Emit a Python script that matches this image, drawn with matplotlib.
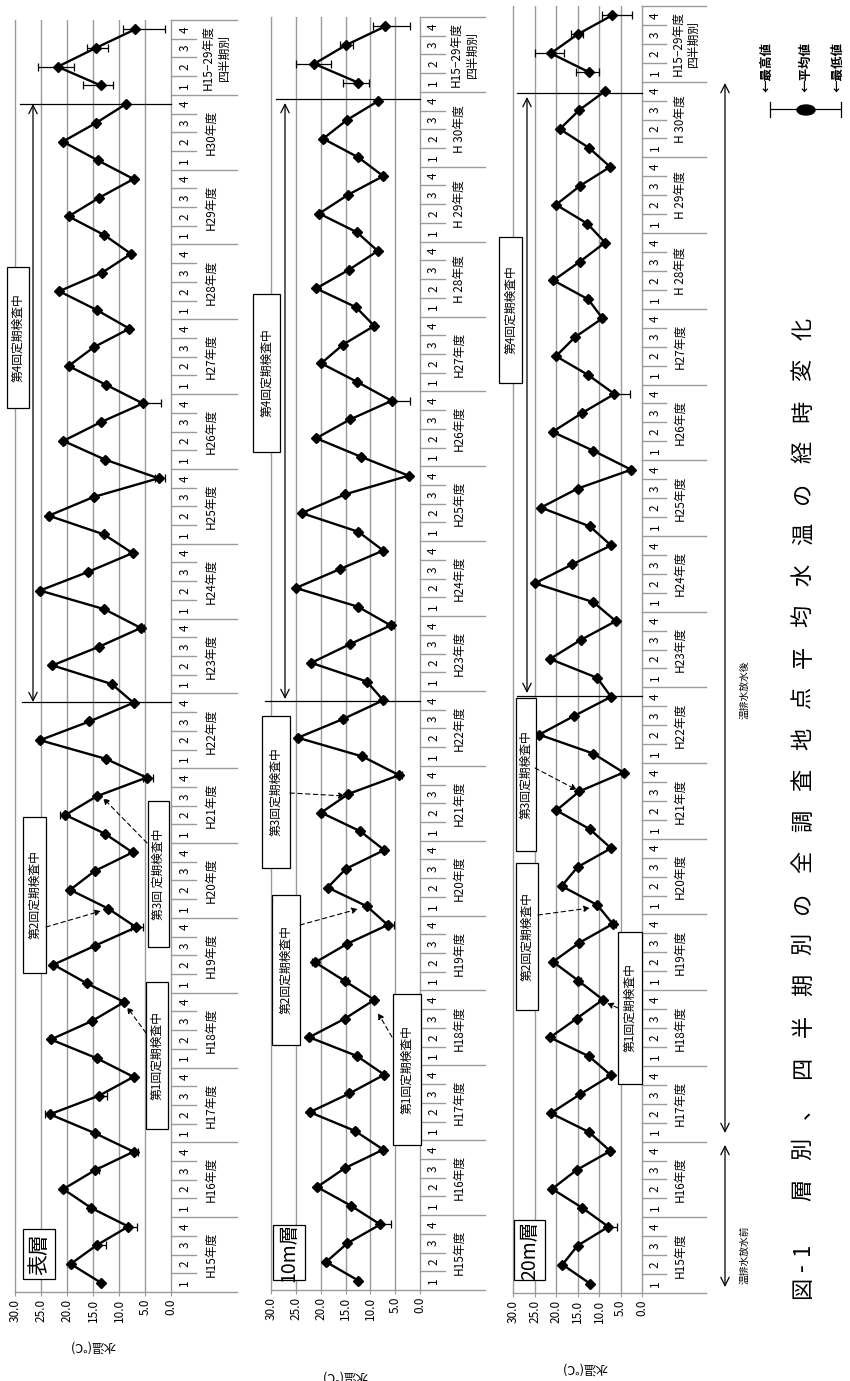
import matplotlib
matplotlib.use('Agg')
import matplotlib.pyplot as plt
import matplotlib.transforms as mtrans
from matplotlib.lines import Line2D
from matplotlib.patches import Rectangle, Ellipse, FancyArrowPatch

plt.rcParams['font.family'] = ['Noto Sans CJK JP', 'DejaVu Sans']

# ---- data (deg C), quarters 1-4 of each fiscal year H15..H30 ----
years = ['H15', 'H16', 'H17', 'H18', 'H19', 'H20', 'H21', 'H22',
         'H23', 'H24', 'H25', 'H26', 'H27', 'H28', 'H29', 'H30']
quarters = ['1', '2', '3', '4']

surf_mean = [13.5, 19.3, 14.3, 8.2, 15.4, 20.7, 14.7, 7.2, 14.7, 23.3, 13.8, 7.2,
             14.3, 23.1, 15.1, 9.0, 16.2, 22.6, 14.7, 6.7, 12.1, 19.4, 14.7, 7.4,
             12.7, 20.3, 14.3, 4.7, 12.5, 25.2, 15.7, 7.2, 11.4, 22.8, 13.8, 5.8,
             12.8, 25.2, 15.9, 7.4, 12.9, 23.5, 14.9, 2.4, 12.7, 20.7, 13.5, 5.4,
             12.5, 19.7, 14.9, 8.0, 14.3, 21.5, 13.2, 7.7, 12.8, 19.7, 13.8, 7.2,
             14.1, 20.8, 14.4, 8.7]
surf_up = [0.2, 0.3, 0.3, 0.3, 0.6, 0.3, 0.2, 0.2, 0.2, 0.9, 0.2, 0.2,
           0.2, 0.4, 0.2, 0.3, 0.3, 0.2, 0.2, 0.9, 0.2, 0.2, 0.2, 0.2,
           0.2, 1.0, 0.2, 0.6, 0.2, 0.3, 0.2, 0.2, 0.2, 0.3, 0.2, 0.4,
           0.2, 0.3, 0.2, 0.2, 0.2, 0.3, 0.2, 0.7, 0.2, 0.3, 0.2, 0.2,
           0.2, 0.2, 0.2, 0.2, 0.2, 0.2, 0.2, 0.2, 0.2, 0.2, 0.2, 0.2,
           0.2, 0.2, 0.2, 0.2]
surf_dn = [0.3, 0.3, 1.8, 1.6, 0.3, 0.3, 0.8, 0.9, 0.3, 0.3, 1.4, 0.3,
           0.5, 0.3, 0.3, 0.4, 0.3, 0.3, 0.3, 1.4, 0.3, 0.3, 0.3, 0.3,
           0.3, 0.3, 0.3, 1.3, 0.3, 0.3, 0.3, 0.3, 0.3, 0.3, 0.3, 0.6,
           0.3, 0.3, 0.3, 0.3, 0.3, 0.3, 0.3, 1.2, 0.3, 0.3, 0.5, 3.5,
           0.3, 0.3, 0.3, 0.3, 0.3, 0.3, 0.3, 0.3, 0.3, 0.3, 0.3, 0.3,
           0.3, 0.3, 0.3, 0.3]
surf_q_mean = [13.5, 21.8, 14.5, 6.9]
surf_q_max = [16.9, 25.6, 16.1, 9.3]
surf_q_min = [11.1, 18.7, 12.1, 1.2]

m10_mean = [12.4, 18.9, 14.6, 8.0, 13.9, 20.7, 15.2, 7.4, 13.1, 22.2, 14.2, 7.2,
            12.7, 22.3, 15.1, 9.2, 15.1, 21.1, 14.6, 6.5, 10.7, 18.6, 14.9, 7.2,
            12.0, 19.9, 14.4, 4.2, 11.6, 24.6, 15.5, 7.4, 10.7, 21.9, 14.1, 5.9,
            12.5, 25.0, 16.2, 7.4, 12.4, 23.8, 15.1, 2.3, 11.8, 20.9, 14.1, 5.7,
            12.6, 19.9, 15.5, 9.2, 12.9, 20.9, 14.3, 8.5, 12.7, 20.3, 14.5, 7.4,
            12.4, 19.5, 14.7, 8.5]
m10_up = [0.2, 0.2, 0.2, 0.3, 0.2, 0.2, 0.2, 0.2, 0.2, 0.3, 0.2, 0.2,
          0.2, 0.3, 0.2, 0.2, 0.2, 0.6, 0.2, 0.3, 0.2, 0.2, 0.2, 0.2,
          0.2, 0.2, 0.6, 0.2, 0.2, 0.3, 0.2, 0.2, 0.2, 0.2, 0.2, 0.2,
          0.2, 0.2, 0.2, 0.2, 0.2, 0.2, 0.2, 0.2, 0.2, 0.2, 0.2, 0.2,
          0.2, 0.2, 0.2, 0.2, 0.2, 0.2, 0.2, 0.2, 0.2, 0.2, 0.2, 0.2,
          0.2, 0.2, 0.2, 0.2]
m10_dn = [0.3, 0.3, 0.3, 2.1, 0.3, 0.3, 0.3, 0.3, 0.5, 0.3, 0.3, 0.4,
          0.5, 0.3, 0.3, 0.3, 0.6, 0.3, 0.3, 1.3, 0.3, 0.3, 0.3, 0.3,
          0.3, 0.3, 0.3, 0.5, 0.3, 0.3, 0.3, 0.3, 0.3, 0.3, 0.3, 0.7,
          0.5, 0.3, 0.3, 0.3, 0.3, 0.3, 0.3, 0.3, 0.3, 0.3, 0.3, 3.7,
          0.3, 0.3, 0.3, 0.3, 0.3, 0.3, 0.3, 0.3, 0.3, 0.3, 0.3, 0.3,
          0.3, 0.3, 0.3, 0.3]
m10_q_mean = [12.5, 21.3, 14.9, 7.0]
m10_q_max = [15.6, 24.9, 16.1, 9.4]
m10_q_min = [10.2, 17.9, 13.4, 2.0]

m20_mean = [12.1, 18.5, 15.0, 7.8, 13.9, 20.9, 15.2, 7.4, 12.3, 21.2, 14.4, 7.2,
            12.3, 21.4, 15.2, 9.1, 14.8, 20.7, 14.6, 6.8, 10.4, 18.7, 15.0, 7.2,
            12.1, 19.9, 14.6, 4.3, 11.3, 23.9, 15.7, 7.2, 10.4, 21.4, 14.3, 6.1,
            11.3, 24.9, 16.2, 7.2, 12.1, 23.5, 15.0, 2.5, 11.3, 20.8, 13.9, 6.4,
            12.5, 20.0, 15.6, 9.2, 12.5, 20.6, 14.4, 8.6, 12.7, 20.0, 14.4, 7.4,
            12.3, 19.1, 14.6, 8.6]
m20_up = [0.3, 0.2, 0.2, 0.2, 0.2, 0.2, 0.2, 0.3, 0.2, 0.2, 0.2, 0.2,
          0.3, 0.2, 0.2, 0.2, 0.2, 0.2, 0.2, 0.2, 0.2, 0.2, 0.2, 0.2,
          0.2, 0.2, 0.2, 0.2, 0.2, 0.2, 0.2, 0.2, 0.2, 0.2, 0.2, 0.2,
          0.2, 0.2, 0.2, 0.2, 0.2, 0.2, 0.2, 0.2, 0.2, 0.2, 0.2, 0.2,
          0.2, 0.2, 0.2, 0.2, 0.2, 0.2, 0.2, 0.2, 0.2, 0.2, 0.2, 0.2,
          0.2, 0.2, 0.2, 0.2]
m20_dn = [0.3, 0.3, 0.3, 2.0, 0.3, 0.3, 0.3, 0.5, 0.3, 0.3, 0.3, 0.3,
          0.3, 0.3, 0.3, 0.3, 0.5, 0.3, 0.3, 0.7, 0.3, 0.3, 0.3, 0.3,
          0.3, 0.3, 0.3, 0.3, 0.3, 0.3, 0.3, 0.3, 0.3, 0.3, 0.3, 0.4,
          0.3, 0.3, 0.3, 0.3, 0.3, 0.3, 0.3, 0.3, 0.3, 0.3, 0.3, 3.7,
          0.3, 0.3, 0.3, 0.3, 0.3, 0.3, 0.3, 0.3, 0.3, 0.3, 0.3, 0.3,
          0.3, 0.3, 0.3, 0.3]
m20_q_mean = [12.3, 21.2, 15.0, 7.0]
m20_q_max = [15.4, 24.9, 16.4, 9.3]
m20_q_min = [10.1, 18.1, 13.8, 2.3]

W, H = 850, 1381
fig = plt.figure(figsize=(W / 100, H / 100), dpi=100)
# pixel coords measured from the top-left of the page
pix = mtrans.Affine2D().scale(1.0 / W, -1.0 / H).translate(0, 1) + fig.transFigure
GRAY = '#9a9a9a'


def tx(x, y, s, **kw):
    kw.setdefault('ha', 'center')
    kw.setdefault('va', 'center')
    kw.setdefault('rotation', 90)
    fig.text(x, y, s, transform=pix, **kw)


def box(x0, x1, y0, y1, s, fs=8.5):
    fig.add_artist(Rectangle((x0, y0), x1 - x0, y1 - y0, transform=pix,
                             fc='white', ec='black', lw=0.9))
    tx((x0 + x1) / 2, (y0 + y1) / 2, s, fontsize=fs)


def hline(x0, x1, y, **kw):
    fig.add_artist(Line2D([x0, x1], [y, y], transform=pix, color='black', lw=0.9, **kw))


def darrow(p0, p1):
    fig.add_artist(FancyArrowPatch(p0, p1, transform=pix, arrowstyle='-|>',
                                   mutation_scale=9, lw=0.8, color='black',
                                   linestyle=(0, (4, 3)), shrinkA=0, shrinkB=0))


def twoway(x, y0, y1):
    fig.add_artist(FancyArrowPatch((x, y0), (x, y1), transform=pix,
                                   arrowstyle='<->,head_length=0.6,head_width=0.3',
                                   mutation_scale=10, lw=0.9, color='black',
                                   shrinkA=0, shrinkB=0))


def panel(x30, x0, ytop, ybot, xtab, mean, up, dn, qmean, qmax, qmin, spaced):
    ax = fig.add_axes([x30 / W, 1 - ybot / H, (x0 - x30) / W, (ybot - ytop) / H])
    ax.set_xlim(30, 0)
    ax.set_ylim(-0.5, 67.5)
    for v in [5, 10, 15, 20, 25]:
        ax.axvline(v, color=GRAY, lw=1, zorder=0)
    ax.spines['top'].set_visible(False)
    for s in ['left', 'right', 'bottom']:
        ax.spines[s].set_color(GRAY)
        ax.spines[s].set_linewidth(1)
    ax.set_xticks([30, 25, 20, 15, 10, 5, 0])
    ax.set_xticklabels(['%.1f' % v for v in [30, 25, 20, 15, 10, 5, 0]],
                       rotation=90, fontsize=8.5)
    ax.tick_params(axis='x', length=3, color=GRAY, pad=2)
    ax.set_yticks([])
    ax.patch.set_alpha(0)

    q = list(range(64))
    ax.errorbar(mean, q, xerr=[dn, up], fmt='-D', color='black', ms=5, lw=1.7,
                elinewidth=0.9, capsize=3, capthick=0.9)
    qq = list(range(64, 68))
    ax.errorbar(qmean, qq,
                xerr=[[m - lo for m, lo in zip(qmean, qmin)],
                      [hi - m for m, hi in zip(qmean, qmax)]],
                fmt='-D', color='black', ms=5, lw=1.7, elinewidth=0.9,
                capsize=3, capthick=0.9)

    # two-level category table
    tab = fig.add_axes([x0 / W, 1 - ybot / H, (xtab - x0) / W, (ybot - ytop) / H])
    tab.set_xlim(0, 1)
    tab.set_ylim(-0.5, 67.5)
    tab.axis('off')
    for k in range(18):
        tab.plot([0, 1], [4 * k - 0.5, 4 * k - 0.5], color=GRAY, lw=1, clip_on=False)
    for k in range(17):
        for j in range(3):
            tab.plot([0, 0.38], [4 * k + j + 0.5] * 2, color=GRAY, lw=1, clip_on=False)
        for j in range(4):
            tab.text(0.21, 4 * k + j, quarters[j], rotation=90, ha='center',
                     va='center', fontsize=8.5)
    for k, yname in enumerate(years):
        lab = yname + '年度'
        if spaced and k >= 13:
            lab = 'H ' + yname[1:] + '年度'
        tab.text(0.6, 4 * k + 1.5, lab, rotation=90, ha='center', va='center',
                 fontsize=8.5)
    tab.text(0.56, 65.5, 'H15−29年度', rotation=90, ha='center', va='center',
             fontsize=8.5)
    tab.text(0.8, 65.5, '四半期別', rotation=90, ha='center', va='center',
             fontsize=8.5)
    return ax


panel(15, 171, 20, 1292, 237, surf_mean, surf_up, surf_dn,
      surf_q_mean, surf_q_max, surf_q_min, False)
panel(271, 420, 17, 1290, 485, m10_mean, m10_up, m10_dn,
      m10_q_mean, m10_q_max, m10_q_min, True)
panel(513, 642, 6, 1293, 706, m20_mean, m20_up, m20_dn,
      m20_q_mean, m20_q_max, m20_q_min, True)

# y axis titles (upside down after the page rotation)
tx(93, 1346, '水温(℃)', rotation=180, fontsize=9)
tx(345, 1376, '水温(℃)', rotation=180, fontsize=9)
tx(585, 1368, '水温(℃)', rotation=180, fontsize=9)

# layer labels
box(23, 55, 1229, 1279, '表層', fs=15)
box(273, 305, 1225, 1280, '10m層', fs=14)
box(514, 545, 1220, 1280, '20m層', fs=14)

# inspection boxes and arrows - surface
box(146, 168, 982, 1129, '第1回定期検査中')
box(23, 46, 817, 973, '第2回定期検査中')
box(148, 169, 801, 947, '第3回 定期検査中')
box(7, 29, 267, 408, '第4回定期検査中')
darrow((146, 1033), (127, 1007))
darrow((46, 927), (101, 911))
darrow((147, 843), (103, 798))
twoway(33, 104, 702)
hline(20, 171, 104)
hline(22, 171, 702)

# 10m
box(393, 421, 994, 1145, '第1回定期検査中')
box(272, 300, 895, 1045, '第2回定期検査中')
box(262, 290, 716, 868, '第3回定期検査中')
box(253, 280, 294, 452, '第4回定期検査中')
darrow((392, 1037), (378, 1013))
darrow((300, 925), (358, 909))
darrow((290, 793), (345, 796))
twoway(285, 103, 699)
hline(276, 420, 99)
hline(265, 420, 701)

# 20m
box(618, 642, 932, 1084, '第1回定期検査中')
box(516, 538, 863, 1010, '第2回定期検査中')
box(516, 536, 698, 851, '第3回定期検査中')
box(499, 522, 237, 383, '第4回定期検査中')
darrow((618, 1008), (607, 1003))
darrow((538, 915), (590, 908))
darrow((535, 768), (577, 790))
twoway(527, 97, 693)
hline(517, 642, 93)
hline(517, 642, 696)

# before / after discharge
twoway(725, 83, 1133)
twoway(725, 1145, 1287)
tx(745, 690, '温排水放水後', fontsize=7)
tx(745, 1255, '温排水放水前', fontsize=7)

# legend
fig.add_artist(Line2D([770, 841], [109, 109], transform=pix, color='black', lw=0.9))
fig.add_artist(Line2D([770, 770], [102, 117], transform=pix, color='black', lw=0.9))
fig.add_artist(Line2D([841, 841], [102, 117], transform=pix, color='black', lw=0.9))
fig.add_artist(Ellipse((806, 110), 18, 10, transform=pix, color='black'))
tx(767, 92, '←最高値', va='bottom', fontsize=9, fontweight='bold')
tx(806, 92, '←平均値', va='bottom', fontsize=9, fontweight='bold')
tx(838, 92, '←最低値', va='bottom', fontsize=9, fontweight='bold')

# title, spaced characters
tx(803, 1288, '図', fontsize=16)
tx(803, 1267, '-', fontsize=16)
tx(803, 1249, '1', fontsize=16)
title = '層別、四半期別の全調査地点平均水温の経時変化'
for i, ch in enumerate(title):
    tx(803, 1190 - 41 * i, ch, fontsize=16)

fig.savefig('out.png', dpi=100)
